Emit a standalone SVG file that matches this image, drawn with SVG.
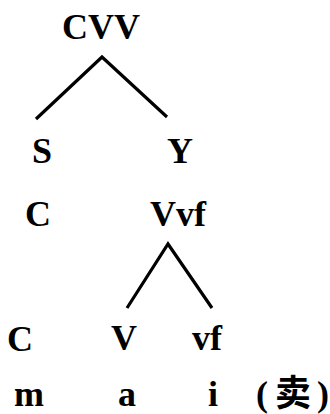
<svg xmlns="http://www.w3.org/2000/svg" width="330" height="414" viewBox="0 0 330 414">
<style>
text{font-family:"Liberation Serif","Noto Sans CJK SC",serif;font-weight:bold;font-size:36px;fill:#000;text-anchor:middle}
.e{stroke:#000;stroke-width:3.2;fill:none;stroke-linecap:butt;stroke-linejoin:miter}
</style>
<rect width="330" height="414" fill="#fff"/>
<g id="connectors">
<polyline class="e" points="36,119 102,57 167,117"/>
<polyline class="e" points="127,308 168,244 212,308"/>
</g>
<g id="n-cvv"><text x="101" y="39">CVV</text></g>
<g id="n-s"><text x="42" y="163">S</text></g>
<g id="n-y"><text x="180" y="163">Y</text></g>
<g id="n-c1"><text x="38" y="226">C</text></g>
<g id="n-vvf"><text x="178" y="226">Vvf</text></g>
<g id="n-c2"><text x="20" y="351">C</text></g>
<g id="n-v"><text x="124" y="350">V</text></g>
<g id="n-vf"><text x="207" y="350">vf</text></g>
<g id="n-m"><text x="29" y="406">m</text></g>
<g id="n-a"><text x="127" y="406">a</text></g>
<g id="n-i"><text x="213" y="406">i</text></g>
<g id="n-gloss"><text x="256 275 317" y="406" style="text-anchor:start">(卖)</text></g>
</svg>
